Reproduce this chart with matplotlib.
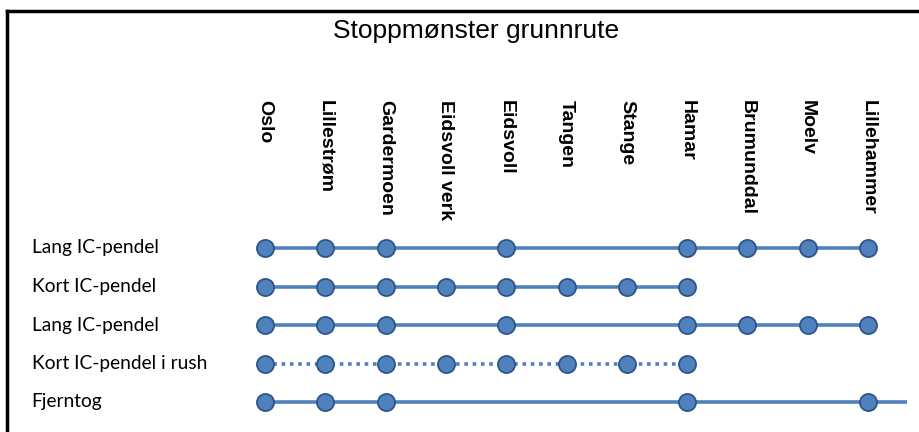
import matplotlib
matplotlib.use("Agg")
import matplotlib.pyplot as plt
from matplotlib.lines import Line2D

# stations along the line, west to north
stations = ['Oslo', 'Lillestrøm', 'Gardermoen', 'Eidsvoll verk', 'Eidsvoll',
            'Tangen', 'Stange', 'Hamar', 'Brumunddal', 'Moelv', 'Lillehammer']

# routes, top to bottom
routes = ['Lang IC-pendel', 'Kort IC-pendel', 'Lang IC-pendel',
          'Kort IC-pendel i rush', 'Fjerntog']

# stops for each route
lang_stops = ['Oslo', 'Lillestrøm', 'Gardermoen', 'Eidsvoll', 'Hamar',
              'Brumunddal', 'Moelv', 'Lillehammer']
kort_stops = ['Oslo', 'Lillestrøm', 'Gardermoen', 'Eidsvoll verk', 'Eidsvoll',
              'Tangen', 'Stange', 'Hamar']
fjern_stops = ['Oslo', 'Lillestrøm', 'Gardermoen', 'Hamar', 'Lillehammer']
stops = [lang_stops, kort_stops, lang_stops, kort_stops, fjern_stops]

# dotted = only in rush hours
dotted = [False, False, False, True, False]

line_col = '#4F81BD'
edge_col = '#2E558A'

fig = plt.figure(figsize=(9.19, 4.32), dpi=100)
ax = fig.add_axes([0, 0, 1, 1])
ax.axis('off')

# pixel layout -> data limits (first station at 265 px, 60.3 px per station)
ax.set_xlim(-265 / 60.3, (919 - 265) / 60.3)
ax.set_ylim((432 - 248) / 38.5, -248 / 38.5)

for i, (name, st) in enumerate(zip(routes, stops)):
    xs = [stations.index(s) for s in st]
    ls = (0, (1, 1.3)) if dotted[i] else '-'
    end = xs[-1] + (0.65 if name == 'Fjerntog' else 0)
    ax.plot([xs[0], end], [i, i], color=line_col, lw=2.6, ls=ls, zorder=1,
            solid_capstyle='butt', dash_capstyle='butt')
    ax.plot(xs, [i] * len(xs), 'o', ms=12.3, color='#4F81BD', mec=edge_col,
            mew=1.3, zorder=2)
    ax.text(-3.87, i, name, fontsize=13.8, family='Lato', va='center',
            ha='left')

for j, s in enumerate(stations):
    ax.text(j, -3.84, s, rotation=-90, ha='center', va='top', fontsize=14,
            family='Liberation Sans', weight='bold')

fig.text(476 / 919, 1 - 31 / 432, 'Stoppmønster grunnrute', ha='center',
         va='center', fontsize=19, family='Liberation Sans')

# frame (top and left edges)
fig.add_artist(Line2D([7 / 919, 7 / 919], [0, 1 - 11 / 432],
                      transform=fig.transFigure, color='black', lw=2.5))
fig.add_artist(Line2D([7 / 919, 1], [1 - 11 / 432, 1 - 11 / 432],
                      transform=fig.transFigure, color='black', lw=2.5))

fig.savefig('out.png', dpi=100)
